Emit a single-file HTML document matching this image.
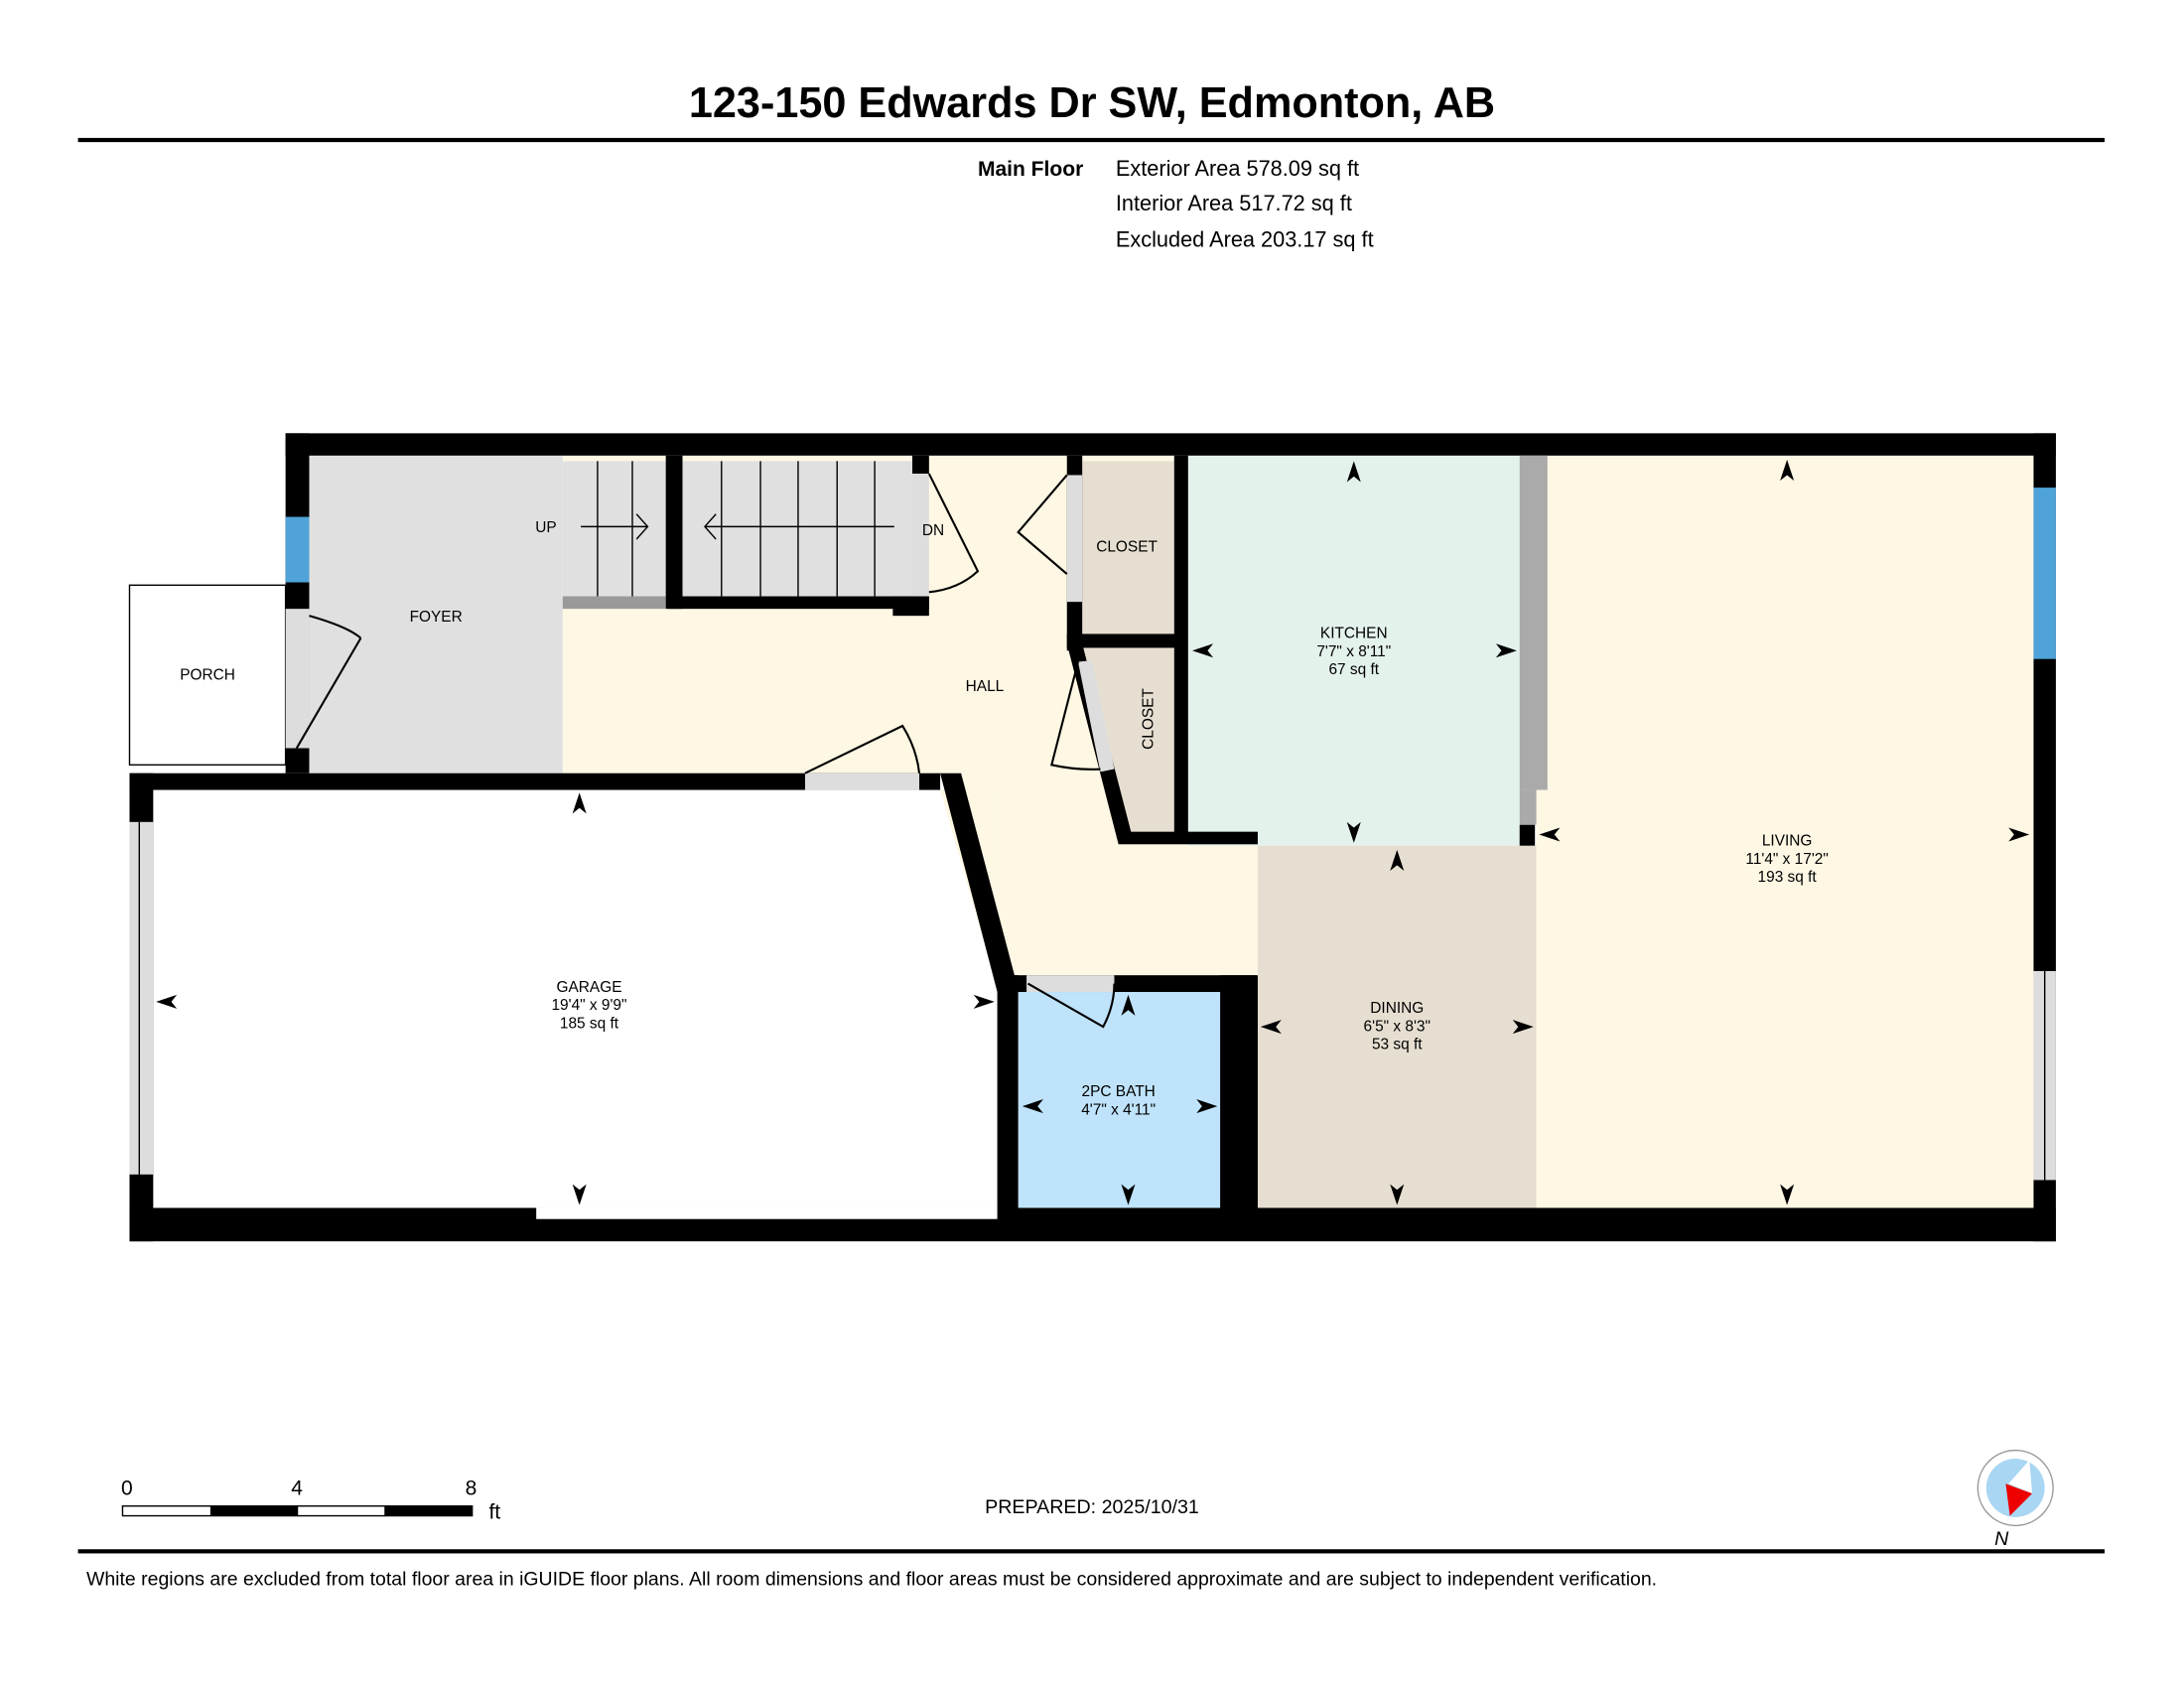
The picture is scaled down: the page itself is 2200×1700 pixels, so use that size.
<!DOCTYPE html>
<html><head><meta charset="utf-8"><style>
html,body{margin:0;padding:0;background:#fff}
svg{display:block}
text{font-family:"Liberation Sans",Arial,sans-serif}
</style></head><body>
<svg width="2200" height="1700" viewBox="0 0 1568 1211.6" preserveAspectRatio="none" xmlns="http://www.w3.org/2000/svg">
<defs>
<path id="ar" d="M0,0 L5,15 L0,11 L-5,15Z" fill="#000"/>
</defs>
<rect width="1568" height="1212" fill="#fff"/>
<text x="784" y="84" font-size="30.8" font-weight="bold" text-anchor="middle">123-150 Edwards Dr SW, Edmonton, AB</text>
<rect x="56" y="99" width="1455" height="3" fill="#000"/>
<text x="702" y="126" font-size="15" font-weight="bold">Main Floor</text>
<text x="801" y="126" font-size="15.5">Exterior Area 578.09 sq ft</text>
<text x="801" y="151" font-size="15.5">Interior Area 517.72 sq ft</text>
<text x="801" y="177" font-size="15.5">Excluded Area 203.17 sq ft</text>

<rect x="93" y="420" width="112" height="129" fill="#fff" stroke="#000" stroke-width="1"/>
<polygon points="404,327 843,327 843,605 903,605 903,700 716,700 675,555 404,555" fill="#fdf7e4"/>
<rect x="222" y="327" width="182" height="228" fill="#e0e0e0"/>
<rect x="404" y="331" width="74" height="97" fill="#e0e0e0"/>
<rect x="404" y="428" width="74" height="9" fill="#999"/>
<rect x="490" y="331" width="165" height="97" fill="#e0e0e0"/>
<g stroke="#000" stroke-width="1">
<line x1="429" y1="331" x2="429" y2="428"/><line x1="454" y1="331" x2="454" y2="428"/>
<line x1="518" y1="331" x2="518" y2="428"/><line x1="546" y1="331" x2="546" y2="428"/>
<line x1="573" y1="331" x2="573" y2="428"/><line x1="601" y1="331" x2="601" y2="428"/>
<line x1="628" y1="331" x2="628" y2="428"/>
<line x1="417" y1="378" x2="465" y2="378"/><polyline points="457,369 465,378 457,387" fill="none"/>
<line x1="506" y1="378" x2="642" y2="378"/><polyline points="514,369 506,378 514,387" fill="none"/>
</g>
<rect x="777" y="331" width="66" height="124" fill="#e6dfd1"/>
<polygon points="777,465 843,465 843,597 810,597" fill="#e6dfd1"/>
<rect x="853" y="327" width="238" height="280" fill="#e4f2ec"/>
<rect x="903" y="607" width="200" height="260" fill="#e6dfd1"/>
<rect x="1103" y="327" width="357" height="540" fill="#fdf7e4"/>
<rect x="731" y="712" width="145" height="155" fill="#bfe3fb"/>
<rect x="110" y="567" width="606" height="308" fill="#fff"/>
<polygon points="675,567 716,567 716,710" fill="#fdf7e4"/>

<g fill="#000">
<rect x="205" y="311" width="1271" height="16"/>
<rect x="1460" y="311" width="16" height="580"/>
<rect x="93" y="867" width="1383" height="24"/>
<rect x="93" y="555" width="17" height="336"/>
<rect x="93" y="555" width="582" height="12"/>
<polygon points="675,555 690,555 731,710 716,712"/>
<rect x="716" y="700" width="15" height="175"/>
<rect x="716" y="700" width="186" height="12"/>
<rect x="876" y="700" width="27" height="170"/>
<rect x="205" y="311" width="17" height="244"/>
<rect x="478" y="327" width="12" height="110"/>
<rect x="480" y="428" width="187" height="9"/>
<rect x="641" y="428" width="26" height="14"/>
<rect x="655" y="327" width="12" height="13"/>
<rect x="766" y="327" width="11" height="140"/>
<rect x="766" y="455" width="80" height="10"/>
<rect x="843" y="327" width="10" height="278"/>
<polygon points="766,462 777,462 812,597 803,606"/>
<rect x="803" y="597" width="100" height="9"/>
<rect x="1091" y="592" width="11" height="15"/>
</g>
<rect x="385" y="867" width="331" height="8" fill="#fff"/>
<rect x="205" y="371" width="17" height="47" fill="#4fa3d8"/>
<rect x="205" y="437" width="17" height="100" fill="#ddd"/>
<rect x="1460" y="350" width="16" height="123" fill="#4fa3d8"/>
<rect x="1460" y="697" width="16" height="150" fill="#ddd"/>
<line x1="1468" y1="697" x2="1468" y2="847" stroke="#000" stroke-width="1"/>
<rect x="93" y="590" width="17" height="253" fill="#ddd"/>
<line x1="100" y1="590" x2="100" y2="843" stroke="#000" stroke-width="1"/>
<rect x="578" y="555" width="82" height="12" fill="#ddd"/>
<rect x="737" y="700" width="63" height="12" fill="#ddd"/>
<rect x="655" y="340" width="12" height="88" fill="#ddd"/>
<rect x="766" y="341" width="11" height="91" fill="#ddd"/>
<polygon points="774,475 784,474 800,552 790,554" fill="#ddd"/>
<rect x="1091" y="327" width="20" height="240" fill="#aaa"/>
<rect x="1091" y="567" width="12" height="25" fill="#aaa"/>
<g stroke="#000" stroke-width="1.5" fill="none">
<path d="M213,537 L259,458 M222,442 Q250,450 259,458"/>
<path d="M578,555 L648,521 Q658,537 660,555"/>
<path d="M738,706 L792,737 Q800,722 800,706"/>
<path d="M667,340 L702,410 Q688,423 667,425"/>
<path d="M766,341 L731,382 L766,412"/>
<path d="M774,475 L755,549 Q773,553 790,552"/>
</g>

<g>
<use href="#ar" transform="translate(416,569)"/>
<use href="#ar" transform="translate(416,865) rotate(180)"/>
<use href="#ar" transform="translate(112,719) rotate(-90)"/>
<use href="#ar" transform="translate(714,719) rotate(90)"/>
<use href="#ar" transform="translate(972,331)"/>
<use href="#ar" transform="translate(972,605) rotate(180)"/>
<use href="#ar" transform="translate(856,467) rotate(-90)"/>
<use href="#ar" transform="translate(1089,467) rotate(90)"/>
<use href="#ar" transform="translate(1003,610)"/>
<use href="#ar" transform="translate(1003,865) rotate(180)"/>
<use href="#ar" transform="translate(905,737) rotate(-90)"/>
<use href="#ar" transform="translate(1101,737) rotate(90)"/>
<use href="#ar" transform="translate(1283,330)"/>
<use href="#ar" transform="translate(1283,865) rotate(180)"/>
<use href="#ar" transform="translate(1105,599) rotate(-90)"/>
<use href="#ar" transform="translate(1457,599) rotate(90)"/>
<use href="#ar" transform="translate(810,714)"/>
<use href="#ar" transform="translate(810,865) rotate(180)"/>
<use href="#ar" transform="translate(734,794) rotate(-90)"/>
<use href="#ar" transform="translate(874,794) rotate(90)"/>
</g>

<g font-size="11" text-anchor="middle">
<text x="149" y="488">PORCH</text>
<text x="313" y="446">FOYER</text>
<text x="392" y="382">UP</text>
<text x="670" y="384">DN</text>
<text x="707" y="496">HALL</text>
<text x="809" y="396">CLOSET</text>
<text x="828" y="516" transform="rotate(-90 828 516)">CLOSET</text>
<text x="972" y="458">KITCHEN</text><text x="972" y="471">7'7" x 8'11"</text><text x="972" y="484">67 sq ft</text>
<text x="1283" y="607">LIVING</text><text x="1283" y="620">11'4" x 17'2"</text><text x="1283" y="633">193 sq ft</text>
<text x="1003" y="727">DINING</text><text x="1003" y="740">6'5" x 8'3"</text><text x="1003" y="753">53 sq ft</text>
<text x="423" y="712">GARAGE</text><text x="423" y="725">19'4" x 9'9"</text><text x="423" y="738">185 sq ft</text>
<text x="803" y="787">2PC BATH</text><text x="803" y="800">4'7" x 4'11"</text>
</g>

<rect x="88" y="1081" width="251" height="7" fill="#fff" stroke="#000" stroke-width="1"/>
<rect x="151" y="1081" width="63" height="7" fill="#000"/>
<rect x="276" y="1081" width="63" height="7" fill="#000"/>
<g font-size="15"><text x="87" y="1073">0</text><text x="209" y="1073">4</text><text x="334" y="1073">8</text><text x="351" y="1090">ft</text></g>
<text x="784" y="1086" font-size="14" text-anchor="middle">PREPARED: 2025/10/31</text>
<circle cx="1447" cy="1068" r="27" fill="#fff" stroke="#999" stroke-width="1"/>
<circle cx="1447" cy="1068" r="21" fill="#a8d6f3"/>
<polygon points="1457,1048 1459,1072 1442,1065" fill="#fff"/>
<polygon points="1440,1065 1459,1072 1443,1088" fill="#e00"/>
<text x="1437" y="1109" font-size="14" font-style="italic" text-anchor="middle">N</text>
<rect x="56" y="1112" width="1455" height="3" fill="#000"/>
<text x="62" y="1138" font-size="13.88">White regions are excluded from total floor area in iGUIDE floor plans. All room dimensions and floor areas must be considered approximate and are subject to independent verification.</text>
</svg>
</body></html>
